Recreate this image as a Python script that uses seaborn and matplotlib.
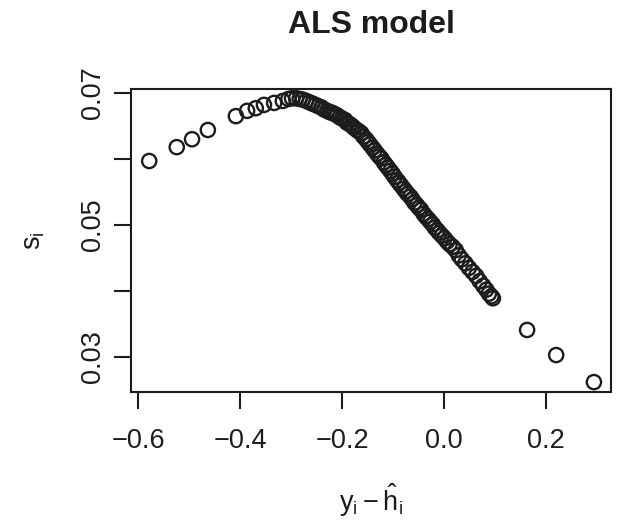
import matplotlib
matplotlib.use("Agg")
import matplotlib.pyplot as plt
import seaborn as sns
import pandas as pd

# residuals y_i - h_i (x) and s_i (y)
resid = [-0.578, -0.524, -0.494, -0.463, -0.408, -0.386, -0.369, -0.353, -0.333, -0.316,
         -0.305, -0.298, -0.290, -0.283, -0.277, -0.270, -0.264, -0.258, -0.252, -0.246,
         -0.240, -0.235, -0.229, -0.224, -0.219, -0.214, -0.209, -0.204, -0.199, -0.194,
         -0.190, -0.185, -0.180, -0.176, -0.171, -0.167, -0.162, -0.158, -0.153, -0.149,
         -0.145, -0.140, -0.136, -0.131, -0.127, -0.123, -0.118, -0.114, -0.110, -0.105,
         -0.101, -0.097, -0.092, -0.088, -0.084, -0.079, -0.075, -0.071, -0.066, -0.062,
         -0.058, -0.053, -0.049, -0.045, -0.040, -0.036, -0.031, -0.027, -0.022, -0.018,
         -0.013, -0.009, -0.004, 0.001, 0.006, 0.011, 0.017, 0.023, 0.029, 0.035,
         0.042, 0.049, 0.056, 0.063, 0.070, 0.077, 0.083, 0.088, 0.093, 0.096,
         0.163, 0.220, 0.294]
s_i = [0.0597, 0.0618, 0.0630, 0.0644, 0.0665, 0.0673, 0.0677, 0.0682, 0.0685, 0.0688,
       0.0691, 0.0692, 0.0692, 0.0691, 0.0690, 0.0688, 0.0686, 0.0684, 0.0682, 0.0680,
       0.0678, 0.0675, 0.0673, 0.0671, 0.0670, 0.0668, 0.0666, 0.0663, 0.0661, 0.0659,
       0.0655, 0.0653, 0.0650, 0.0647, 0.0644, 0.0642, 0.0639, 0.0634, 0.0630, 0.0626,
       0.0622, 0.0617, 0.0613, 0.0608, 0.0604, 0.0601, 0.0595, 0.0591, 0.0587, 0.0582,
       0.0578, 0.0573, 0.0568, 0.0564, 0.0560, 0.0555, 0.0551, 0.0547, 0.0543, 0.0539,
       0.0534, 0.0530, 0.0526, 0.0523, 0.0517, 0.0513, 0.0509, 0.0505, 0.0501, 0.0496,
       0.0492, 0.0488, 0.0484, 0.0480, 0.0475, 0.0471, 0.0467, 0.0462, 0.0454, 0.0448,
       0.0442, 0.0435, 0.0429, 0.0423, 0.0415, 0.0408, 0.0402, 0.0396, 0.0392, 0.0389,
       0.0341, 0.0303, 0.0262]

x_ticks = [-0.6, -0.4, -0.2, 0.0, 0.2]
x_ticklabels = ["\u22120.6", "\u22120.4", "\u22120.2", "0.0", "0.2"]
y_ticks = [0.03, 0.04, 0.05, 0.06, 0.07]
y_ticklabels = ["0.03", "", "0.05", "", "0.07"]

df = pd.DataFrame({"resid": resid, "s": s_i})

sns.set_style("ticks")
plt.rcParams["font.family"] = ["Liberation Sans", "DejaVu Sans"]
plt.rcParams["mathtext.fontset"] = "custom"
plt.rcParams["mathtext.rm"] = "Liberation Sans"
plt.rcParams["mathtext.it"] = "Liberation Sans"
plt.rcParams["mathtext.bf"] = "Liberation Sans:bold"

ink = "#1c1c1c"
fig = plt.figure(figsize=(6.17, 5.30), dpi=100)
ax = fig.add_axes([131 / 617, 1 - 392 / 530, 480 / 617, 303 / 530])

sns.scatterplot(data=df, x="resid", y="s", ax=ax, marker="o", s=105,
                facecolors="none", edgecolor=ink, linewidth=1.7, legend=False)

ax.set_xlim(-0.6137, 0.3275)
ax.set_ylim(0.02470, 0.07061)
ax.set_xticks(x_ticks)
ax.set_xticklabels(x_ticklabels)
ax.set_yticks(y_ticks)
ax.set_yticklabels(y_ticklabels, rotation=90, va="center")

ax.tick_params(axis="both", direction="out", length=12, width=1.5, color=ink,
               labelsize=19.5, labelcolor=ink)
ax.tick_params(axis="x", pad=14)
ax.tick_params(axis="y", pad=6)
for sp in ax.spines.values():
    sp.set_linewidth(1.5)
    sp.set_color(ink)
    sp.set_visible(True)

ax.set_xlabel(r"$\mathrm{y_i - \hat{h}_i}$", fontsize=19.5, color=ink, labelpad=20)
ax.set_ylabel(r"$\mathrm{s_i}$", fontsize=19.5, color=ink, labelpad=24)
ax.set_title("ALS model", fontsize=23, fontweight="bold", color=ink, pad=40)

fig.savefig("out.png", dpi=100)
